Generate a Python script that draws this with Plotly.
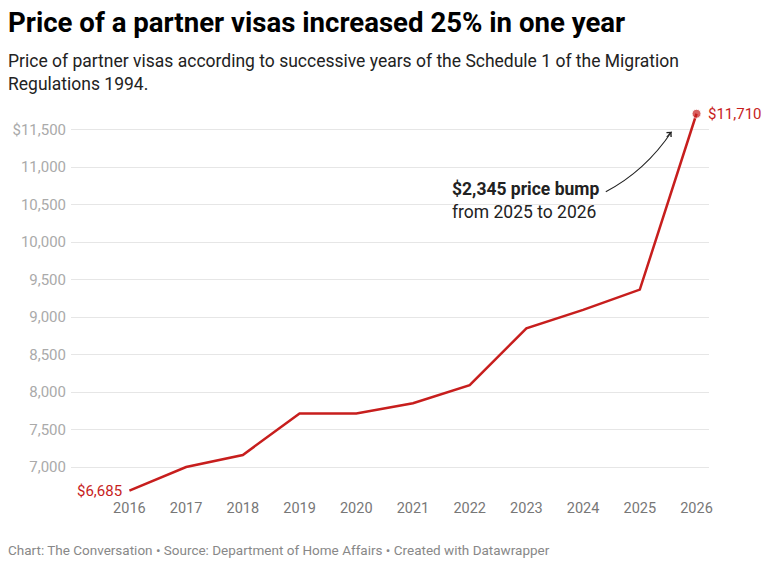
import plotly.graph_objects as go

years = [2016, 2017, 2018, 2019, 2020, 2021, 2022, 2023, 2024, 2025, 2026]
prices = [6685, 7000, 7160, 7715, 7715, 7850, 8090, 8850, 9095, 9365, 11710]
y_tickvals = [7000, 7500, 8000, 8500, 9000, 9500, 10000, 10500, 11000, 11500]
y_ticktext = ["7,000", "7,500", "8,000", "8,500", "9,000", "9,500", "10,000", "10,500", "11,000", "$11,500"]

RED = "#c71e1d"
FONT = "Roboto"

W, H = 768, 564
L, R, T, B = 68, 59, 107, 67
PW = W - L - R
PH = H - T - B

def px_x(px):
    return (px - L) / PW

def px_y(py):
    return (H - B - py) / PH

fig = go.Figure()
fig.add_trace(go.Scatter(
    x=years, y=prices, mode="lines+markers",
    line=dict(color=RED, width=2.5),
    marker=dict(size=[0] * (len(years) - 1) + [9], color=RED),
    hoverinfo="skip", showlegend=False,
))

annotations = [
    dict(text="<b>Price of a partner visas increased 25% in one year</b>",
         x=px_x(3), y=px_y(22), xref="paper", yref="paper", xanchor="left", yanchor="middle",
         showarrow=False, font=dict(family=FONT, size=27.6, color="#000")),
    dict(text="Price of partner visas according to successive years of the Schedule 1 of the Migration<br>Regulations 1994.",
         x=px_x(3), y=px_y(49), xref="paper", yref="paper", xanchor="left", yanchor="top",
         align="left", showarrow=False, font=dict(family=FONT, size=17.5, color="#222")),
    dict(text="Chart: The Conversation • Source: Department of Home Affairs • Created with Datawrapper",
         x=px_x(3), y=px_y(550), xref="paper", yref="paper", xanchor="left", yanchor="middle",
         showarrow=False, font=dict(family=FONT, size=13.5, color="#888")),
    dict(text="$" + f"{prices[0]:,}", x=years[0], y=prices[0], xref="x", yref="y",
         xanchor="right", yanchor="middle", xshift=-5, showarrow=False,
         font=dict(family=FONT, size=15, color=RED)),
    dict(text="$" + f"{prices[-1]:,}", x=years[-1], y=prices[-1], xref="x", yref="y",
         xanchor="left", yanchor="middle", xshift=9, showarrow=False,
         font=dict(family=FONT, size=15, color=RED)),
    dict(text="<b>$2,345 price bump</b><br>from 2025 to 2026",
         x=2021.65, y=10560, xref="x", yref="y", xanchor="left", yanchor="middle",
         align="left", showarrow=False,
         font=dict(family=FONT, size=17.5, color="#222")),
    # arrowhead
    dict(text="", x=2025.56, y=11470, ax=2025.45, ay=11380, axref="x", ayref="y",
         xref="x", yref="y", showarrow=True, arrowhead=4, arrowsize=1.1,
         arrowwidth=1.1, arrowcolor="#222"),
]

shapes = [
    dict(type="path", xref="x", yref="y",
         path="M 2024.4,10670 Q 2025.1,10950 2025.56,11470",
         line=dict(color="#222", width=1.1)),
]

fig.update_layout(
    width=W, height=H,
    margin=dict(l=L, r=R, t=T, b=B),
    paper_bgcolor="white", plot_bgcolor="white",
    font=dict(family=FONT),
    xaxis=dict(range=[2014.97, 2026.22], tickvals=years, ticktext=[str(y) for y in years],
               showgrid=False, zeroline=False, showline=False, ticks="",
               tickfont=dict(family=FONT, size=14.5, color="#777")),
    yaxis=dict(range=[6600, 11800], tickvals=y_tickvals, ticktext=y_ticktext,
               showgrid=True, gridcolor="#e6e6e6", gridwidth=1, zeroline=False,
               showline=False, ticks="", ticklabelstandoff=4,
               tickfont=dict(family=FONT, size=15, color="#aaa")),
    annotations=annotations,
    shapes=shapes,
)

fig.write_html("out.html", config={"displayModeBar": False},
               post_script="document.body.style.margin='0';")
